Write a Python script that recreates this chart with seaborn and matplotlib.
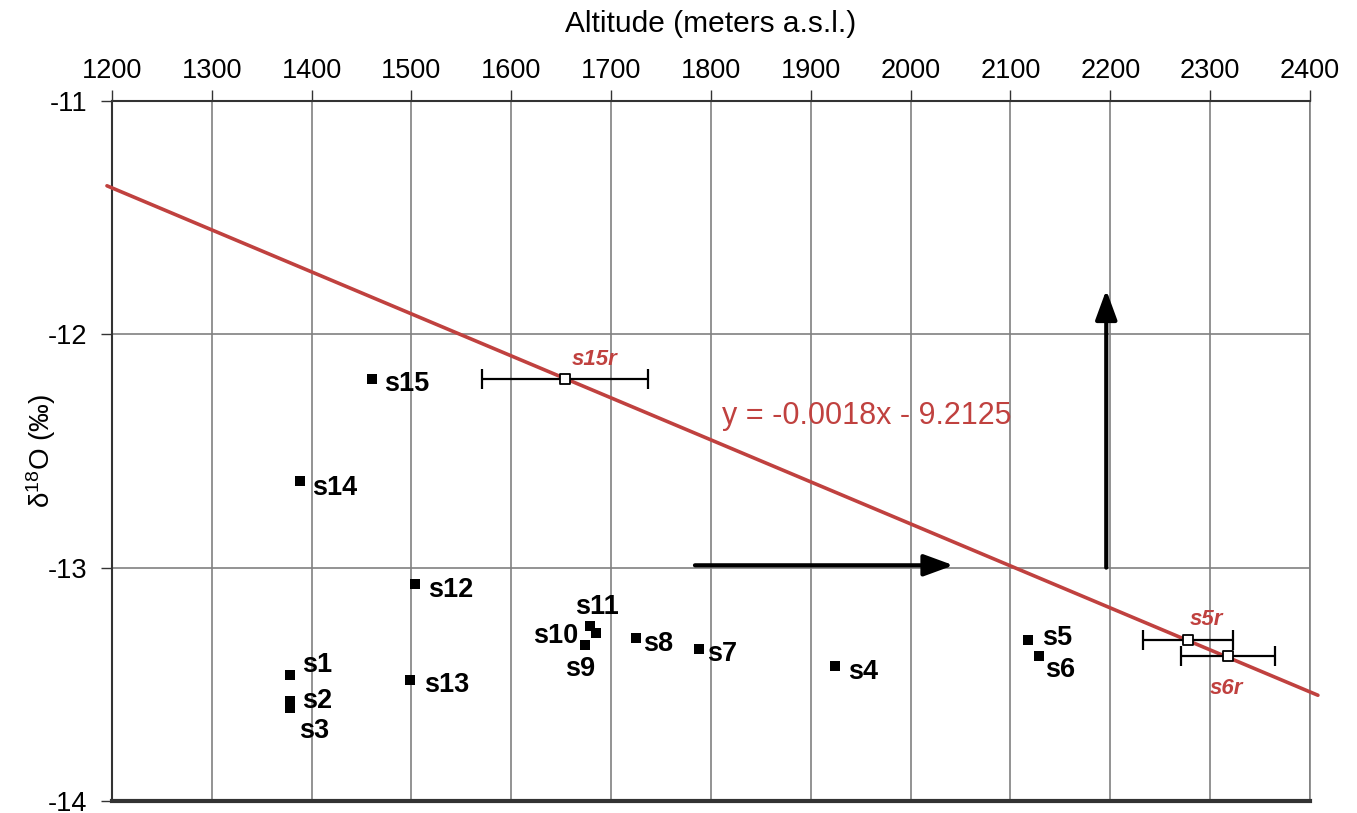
import numpy as np
import pandas as pd
import matplotlib
matplotlib.use("Agg")
import matplotlib.pyplot as plt
import seaborn as sns

# ---------------- data ----------------
samples = ["s1", "s2", "s3", "s4", "s5", "s6", "s7", "s8", "s9", "s10",
           "s11", "s12", "s13", "s14", "s15"]
altitude = [1378, 1378, 1378, 1924, 2118, 2129, 1788, 1725, 1674, 1685,
            1679, 1504, 1499, 1388, 1460]
d18o = [-13.46, -13.57, -13.60, -13.42, -13.31, -13.38, -13.35, -13.30, -13.33, -13.28,
        -13.25, -13.07, -13.48, -12.63, -12.19]

recharge = ["s15r", "s5r", "s6r"]
recharge_alt = [1654, 2278, 2318]
recharge_d18o = [-12.19, -13.31, -13.38]
recharge_err = [83, 45, 47]

slope = -0.0018
intercept = -9.2125
line_x = [1195, 2408]

arrow_h = [(1784, -12.99), (2043, -12.99)]
arrow_v = [(2196, -13.0), (2196, -11.81)]

x_ticks = list(range(1200, 2401, 100))
y_ticks = [-11, -12, -13, -14]

# ---------------- style ----------------
sns.set_theme(style="white")
plt.rcParams["font.family"] = ["Liberation Sans", "DejaVu Sans"]
plt.rcParams["mathtext.fontset"] = "custom"
plt.rcParams["mathtext.rm"] = "Liberation Sans"
plt.rcParams["axes.unicode_minus"] = False
plt.rcParams["text.color"] = "black"
plt.rcParams["xtick.color"] = "black"
plt.rcParams["ytick.color"] = "black"
plt.rcParams["axes.labelcolor"] = "black"

RED = "#c0413f"
GRID = "#808080"

fig = plt.figure(figsize=(13.57, 8.13), dpi=100)
ax = fig.add_axes([0.0825, 0.0148, 0.8828, 0.861])

df = pd.DataFrame({"sample": samples, "alt": altitude, "d18o": d18o})
dfr = pd.DataFrame({"sample": recharge, "alt": recharge_alt, "d18o": recharge_d18o,
                    "err": recharge_err})

# regression line
lx = np.array(line_x, dtype=float)
dfl = pd.DataFrame({"x": lx, "y": slope * lx + intercept})
sns.lineplot(data=dfl, x="x", y="y", color=RED, lw=2.6, ax=ax, zorder=4, clip_on=False)

# sample points
sns.scatterplot(data=df, x="alt", y="d18o", marker="s", color="black", s=46,
                edgecolor="black", linewidth=0, ax=ax, zorder=5)

# recharge points with error bars
ax.errorbar(dfr["alt"], dfr["d18o"], xerr=dfr["err"], fmt="none", ecolor="black",
            elinewidth=1.6, capsize=7, capthick=1.6, zorder=5)
sns.scatterplot(data=dfr, x="alt", y="d18o", marker="s", color="white", s=52,
                edgecolor="black", linewidth=1.3, ax=ax, zorder=6)

# labels
offsets = {
    "s1": (12, 10, "left"), "s2": (12, 0, "left"), "s3": (9, -23, "left"),
    "s4": (13, -6, "left"), "s5": (14, 2, "left"), "s6": (6, -14, "left"),
    "s7": (8, -5, "left"), "s8": (7, -6, "left"), "s9": (-20, -24, "left"),
    "s10": (-18, -3, "right"), "s11": (-15, 19, "left"), "s12": (13, -6, "left"),
    "s13": (14, -5, "left"), "s14": (12, -7, "left"), "s15": (13, -5, "left"),
}
for name, x, y in zip(samples, altitude, d18o):
    dx, dy, ha = offsets[name]
    ax.annotate(name, (x, y), xytext=(dx, dy), textcoords="offset pixels",
                ha=ha, va="center", fontsize=19.5, fontweight="bold", color="black",
                zorder=7)

r_offsets = {"s15r": (7, 19), "s5r": (2, 20), "s6r": (-18, -32)}
for name, x, y in zip(recharge, recharge_alt, recharge_d18o):
    dx, dy = r_offsets[name]
    ax.annotate(name, (x, y), xytext=(dx, dy), textcoords="offset pixels",
                ha="left", va="center", fontsize=16, fontweight="bold",
                fontstyle="italic", color=RED, zorder=7)

ax.text(1811, -12.35, "y = -0.0018x - 9.2125", color=RED, fontsize=22,
        ha="left", va="center", zorder=7)

# arrows
for a in (arrow_h, arrow_v):
    ax.annotate("", xy=a[1], xytext=a[0],
                arrowprops=dict(arrowstyle="-|>,head_length=0.6,head_width=0.22",
                                lw=3, color="black", mutation_scale=30,
                                shrinkA=0, shrinkB=0), zorder=8)

# axes
ax.set_xlim(1200, 2400)
ax.set_ylim(-14, -11)
ax.set_xticks(x_ticks)
ax.set_yticks(y_ticks)
ax.xaxis.tick_top()
ax.xaxis.set_label_position("top")
ax.grid(True, color=GRID, lw=1.2)
ax.set_axisbelow(True)
ax.tick_params(axis="x", which="both", top=True, bottom=False, direction="out",
               length=8, width=1, color="#333333", labelsize=19.5, pad=4)
ax.tick_params(axis="y", which="both", left=True, direction="out", length=8,
               width=1, color="#333333", labelsize=19.5, pad=10)
ax.set_xlabel("Altitude (meters a.s.l.)", fontsize=21.5, labelpad=19)
ax.set_ylabel(r"$\mathregular{\delta^{18}O}$ (‰)", fontsize=20)
ax.yaxis.set_label_coords(-0.045, 0.5)

for side in ("left", "top"):
    ax.spines[side].set_visible(True)
    ax.spines[side].set_color("#333333")
    ax.spines[side].set_linewidth(1.5)
ax.spines["bottom"].set_color("#333333")
ax.spines["bottom"].set_linewidth(3)
ax.spines["right"].set_color(GRID)
ax.spines["right"].set_linewidth(1.2)

fig.savefig("out.png", dpi=100)
